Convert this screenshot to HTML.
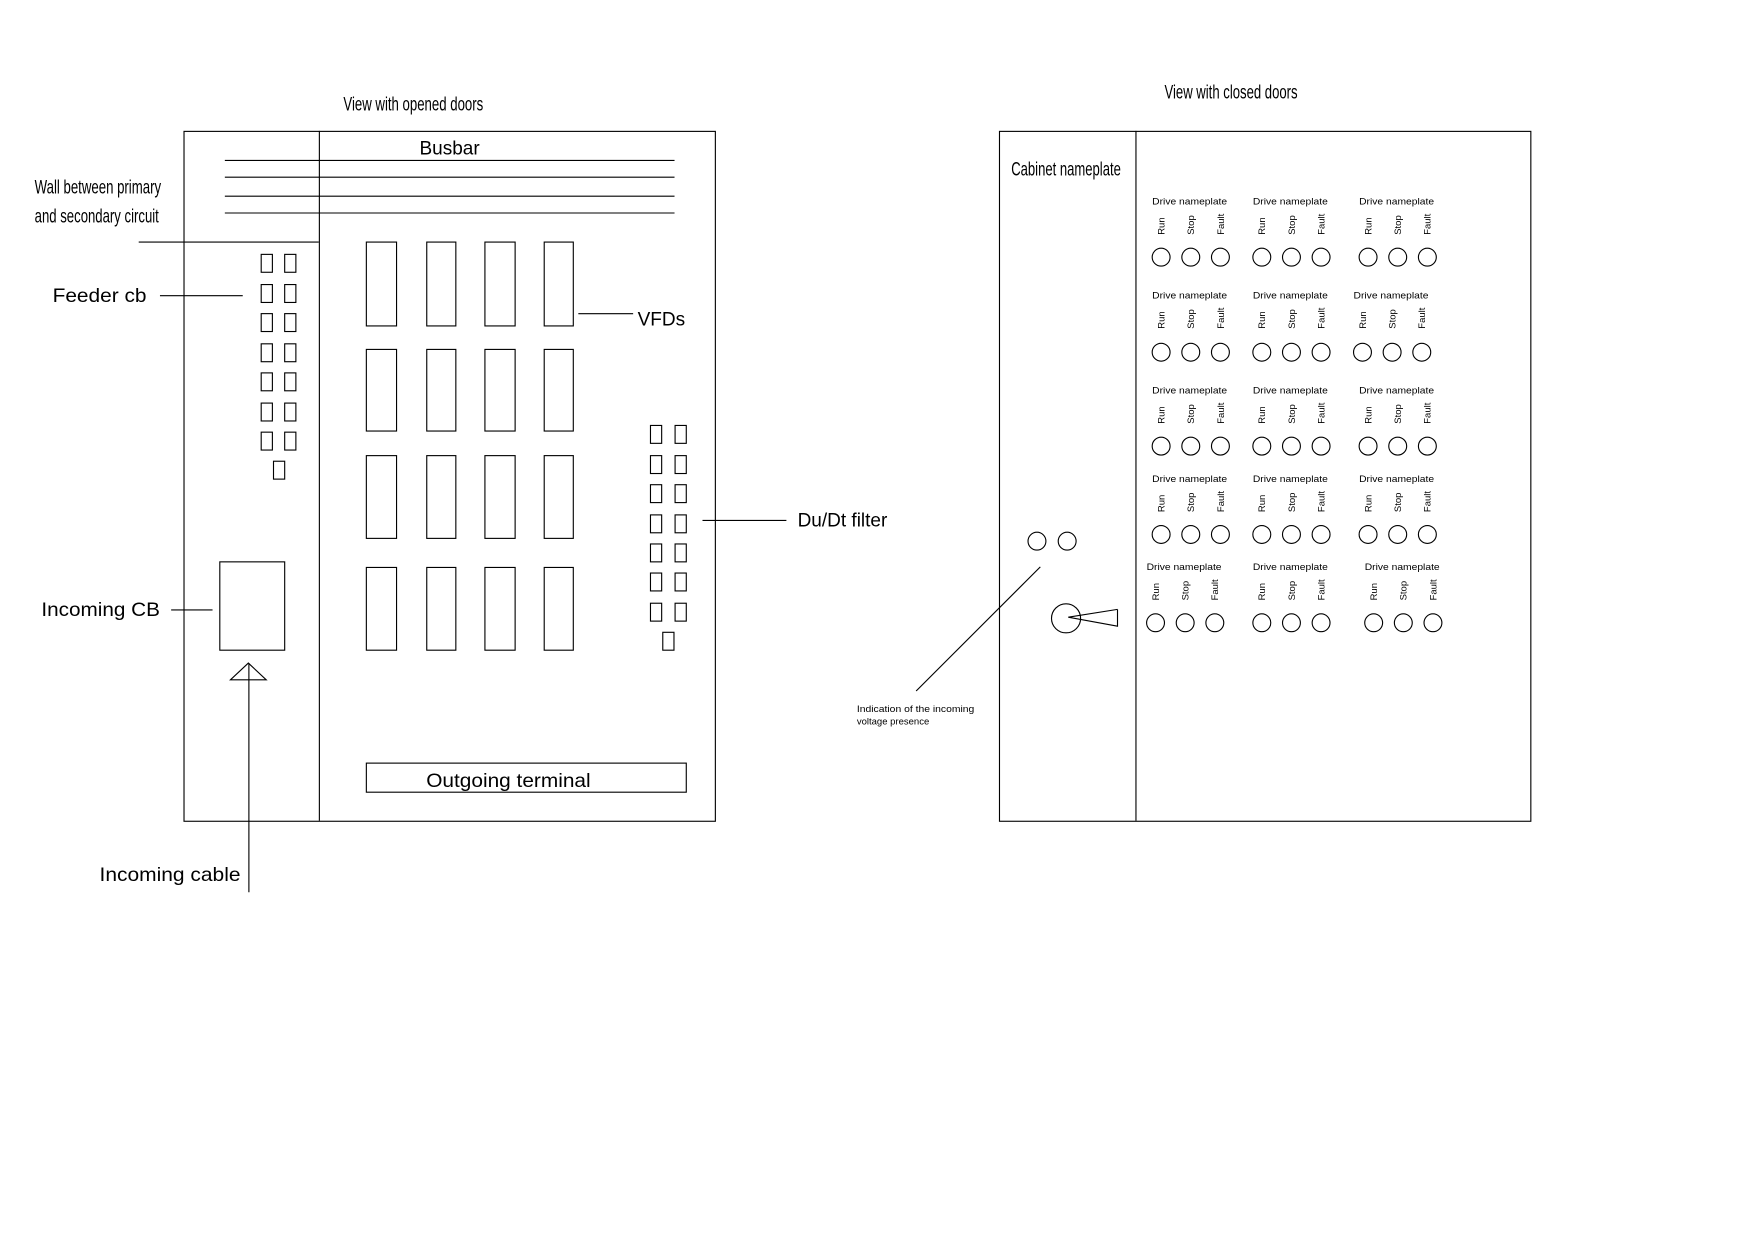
<!DOCTYPE html>
<html><head><meta charset="utf-8"><style>html,body{margin:0;padding:0;background:#fff}svg{display:block}</style></head>
<body>
<svg width="1754" height="1240" viewBox="0 0 1568 1109" preserveAspectRatio="none" xmlns="http://www.w3.org/2000/svg" font-family="Liberation Sans, Arial, sans-serif">
<rect width="1568" height="1109" fill="#fff"/>
<g fill="none" stroke="#000" stroke-width="1">
<rect x="164.5" y="117.5" width="475" height="617"/>
<line x1="285.5" y1="117" x2="285.5" y2="734"/>
<line x1="201" y1="143.5" x2="603" y2="143.5"/>
<line x1="201" y1="158.5" x2="603" y2="158.5"/>
<line x1="201" y1="175.5" x2="603" y2="175.5"/>
<line x1="201" y1="190.5" x2="603" y2="190.5"/>
<line x1="124" y1="216.5" x2="285" y2="216.5"/>
<line x1="143" y1="264.5" x2="217" y2="264.5"/>
<line x1="517" y1="280.5" x2="566" y2="280.5"/>
<line x1="628" y1="465.5" x2="703" y2="465.5"/>
<line x1="153" y1="545.5" x2="190" y2="545.5"/>
<rect x="196.5" y="502.5" width="58" height="79"/>
<polygon points="222,593 206,608 238,608"/>
<line x1="222.5" y1="593" x2="222.5" y2="798"/>
<rect x="327.5" y="682.5" width="286" height="26"/>
<g>
<rect x="233.5" y="227.5" width="10" height="16"/><rect x="254.5" y="227.5" width="10" height="16"/>
<rect x="233.5" y="254.5" width="10" height="16"/><rect x="254.5" y="254.5" width="10" height="16"/>
<rect x="233.5" y="280.5" width="10" height="16"/><rect x="254.5" y="280.5" width="10" height="16"/>
<rect x="233.5" y="307.5" width="10" height="16"/><rect x="254.5" y="307.5" width="10" height="16"/>
<rect x="233.5" y="333.5" width="10" height="16"/><rect x="254.5" y="333.5" width="10" height="16"/>
<rect x="233.5" y="360.5" width="10" height="16"/><rect x="254.5" y="360.5" width="10" height="16"/>
<rect x="233.5" y="386.5" width="10" height="16"/><rect x="254.5" y="386.5" width="10" height="16"/>
<rect x="244.5" y="412.5" width="10" height="16"/>
</g>
<g>
<rect x="581.5" y="380.5" width="10" height="16"/><rect x="603.5" y="380.5" width="10" height="16"/>
<rect x="581.5" y="407.5" width="10" height="16"/><rect x="603.5" y="407.5" width="10" height="16"/>
<rect x="581.5" y="433.5" width="10" height="16"/><rect x="603.5" y="433.5" width="10" height="16"/>
<rect x="581.5" y="460.5" width="10" height="16"/><rect x="603.5" y="460.5" width="10" height="16"/>
<rect x="581.5" y="486.5" width="10" height="16"/><rect x="603.5" y="486.5" width="10" height="16"/>
<rect x="581.5" y="512.5" width="10" height="16"/><rect x="603.5" y="512.5" width="10" height="16"/>
<rect x="581.5" y="539.5" width="10" height="16"/><rect x="603.5" y="539.5" width="10" height="16"/>
<rect x="592.5" y="565.5" width="10" height="16"/>
</g>
<g>
<rect x="327.5" y="216.5" width="27" height="75"/><rect x="381.5" y="216.5" width="26" height="75"/><rect x="433.5" y="216.5" width="27" height="75"/><rect x="486.5" y="216.5" width="26" height="75"/>
<rect x="327.5" y="312.5" width="27" height="73"/><rect x="381.5" y="312.5" width="26" height="73"/><rect x="433.5" y="312.5" width="27" height="73"/><rect x="486.5" y="312.5" width="26" height="73"/>
<rect x="327.5" y="407.5" width="27" height="74"/><rect x="381.5" y="407.5" width="26" height="74"/><rect x="433.5" y="407.5" width="27" height="74"/><rect x="486.5" y="407.5" width="26" height="74"/>
<rect x="327.5" y="507.5" width="27" height="74"/><rect x="381.5" y="507.5" width="26" height="74"/><rect x="433.5" y="507.5" width="27" height="74"/><rect x="486.5" y="507.5" width="26" height="74"/>
</g>
<rect x="893.5" y="117.5" width="475" height="617"/>
<line x1="1015.5" y1="117" x2="1015.5" y2="734"/>
<circle cx="927" cy="484" r="8"/><circle cx="954" cy="484" r="8"/>
<circle cx="953" cy="553" r="13"/>
<polyline points="999,545 955,552 999,560 999,545"/>
<line x1="930" y1="507" x2="819" y2="618"/>
</g>
<g fill="#000">
<text x="307" y="99" font-size="17" textLength="125" lengthAdjust="spacingAndGlyphs">View with opened doors</text>
<text x="1041" y="88" font-size="17" textLength="119" lengthAdjust="spacingAndGlyphs">View with closed doors</text>
<text x="375" y="138" font-size="17">Busbar</text>
<text x="31" y="173" font-size="17" textLength="113" lengthAdjust="spacingAndGlyphs">Wall between primary</text>
<text x="31" y="199" font-size="17" textLength="111" lengthAdjust="spacingAndGlyphs">and secondary circuit</text>
<text x="47" y="270" font-size="17" textLength="84" lengthAdjust="spacingAndGlyphs">Feeder cb</text>
<text x="570" y="291" font-size="17">VFDs</text>
<text x="713" y="471" font-size="17">Du/Dt filter</text>
<text x="37" y="551" font-size="17" textLength="106" lengthAdjust="spacingAndGlyphs">Incoming CB</text>
<text x="381" y="704" font-size="17" textLength="147" lengthAdjust="spacingAndGlyphs">Outgoing terminal</text>
<text x="89" y="788" font-size="17" textLength="126" lengthAdjust="spacingAndGlyphs">Incoming cable</text>
<text x="904" y="157" font-size="17" textLength="98" lengthAdjust="spacingAndGlyphs">Cabinet nameplate</text>
<text x="766" y="637" font-size="8.5" textLength="105" lengthAdjust="spacingAndGlyphs">Indication of the incoming</text>
<text x="766" y="648" font-size="8.5">voltage presence</text>
</g>
<g id="grid" font-size="8.5" fill="#000">
</g>
<script>
(function(){
var g=document.getElementById('grid');var ns='http://www.w3.org/2000/svg';
var rows=[[180,230,[1030,1120,1215]],[264,315,[1030,1120,1210]],[349,399,[1030,1120,1215]],[428,478,[1030,1120,1215]],[507,557,[1025,1120,1220]]];
rows.forEach(function(r){r[2].forEach(function(x){
 var t=document.createElementNS(ns,'text');t.setAttribute('x',x);t.setAttribute('y',r[0]+3);t.setAttribute('textLength','67');t.setAttribute('lengthAdjust','spacingAndGlyphs');t.textContent='Drive nameplate';g.appendChild(t);
 ['Run','Stop','Fault'].forEach(function(s,i){
  var cx=x+8+i*26.5;
  var v=document.createElementNS(ns,'text');v.setAttribute('transform','translate('+(cx+3)+','+(r[0]+30)+') rotate(-90)');v.textContent=s;g.appendChild(v);
  var c=document.createElementNS(ns,'circle');c.setAttribute('cx',cx);c.setAttribute('cy',r[1]);c.setAttribute('r',8);c.setAttribute('fill','none');c.setAttribute('stroke','#000');g.appendChild(c);
 });
});});
})();
</script>
</svg>
</body></html>
